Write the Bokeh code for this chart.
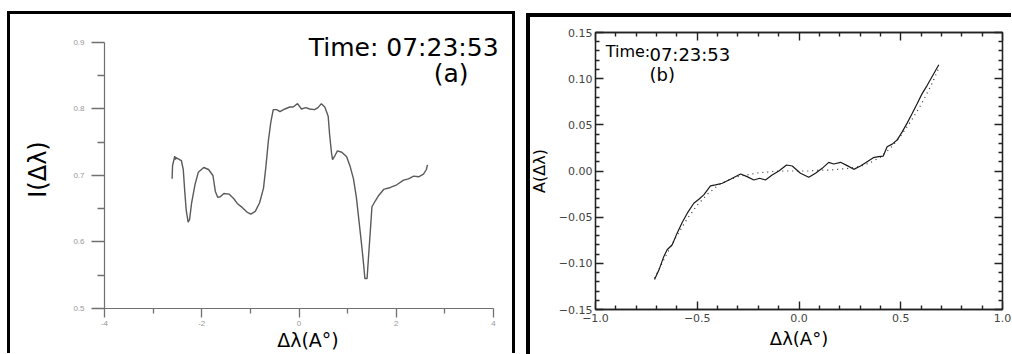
from bokeh.plotting import figure
from bokeh.models import FixedTicker, LinearAxis, Label
from bokeh.layouts import row
from bokeh.embed import file_html
from bokeh.resources import INLINE

# ---------------- Panel (a): intensity profile ----------------
wl_a = [-2.61, -2.60, -2.555, -2.54, -2.53, -2.42, -2.38, -2.35, -2.32, -2.28,
        -2.25, -2.21, -2.14, -2.07, -1.96, -1.86, -1.77, -1.72, -1.67, -1.62,
        -1.545, -1.44, -1.34, -1.27, -1.17, -1.07, -0.99, -0.90, -0.81, -0.73,
        -0.68, -0.63, -0.58, -0.53, -0.46, -0.39, -0.29, -0.19, -0.12, -0.03,
        0.05, 0.14, 0.22, 0.32, 0.39, 0.46, 0.53, 0.60, 0.63, 0.67,
        0.69, 0.74, 0.79, 0.88, 0.98, 1.05, 1.12, 1.18, 1.23, 1.28,
        1.32, 1.355, 1.40, 1.43, 1.47, 1.50, 1.57, 1.64, 1.74, 1.88,
        2.01, 2.15, 2.25, 2.36, 2.46, 2.56, 2.62, 2.64]
int_a = [0.695, 0.715, 0.729, 0.724, 0.727, 0.7225, 0.709, 0.6765, 0.648, 0.630,
         0.634, 0.658, 0.686, 0.705, 0.712, 0.709, 0.700, 0.676, 0.667, 0.668,
         0.673, 0.672, 0.665, 0.658, 0.652, 0.645, 0.642, 0.646, 0.659, 0.681,
         0.714, 0.752, 0.780, 0.799, 0.799, 0.796, 0.800, 0.803, 0.803, 0.808,
         0.800, 0.802, 0.800, 0.799, 0.802, 0.808, 0.803, 0.789, 0.761, 0.733,
         0.724, 0.730, 0.737, 0.735, 0.728, 0.714, 0.695, 0.667, 0.634, 0.601,
         0.573, 0.545, 0.545, 0.578, 0.620, 0.653, 0.662, 0.670, 0.679, 0.682,
         0.686, 0.693, 0.695, 0.699, 0.698, 0.702, 0.709, 0.716]
xt_a = [-4, -2, 0, 2, 4]
xt_a_labels = ["-4", "-2", "0", "2", "4"]
xminor_a = [-3, -1, 1, 3]
yt_a = [0.5, 0.6, 0.7, 0.8, 0.9]
yt_a_labels = ["0.5", "0.6", "0.7", "0.8", "0.9"]
yminor_a = [0.55, 0.65, 0.75, 0.85]

# ---------------- Panel (b): asymmetry ----------------
wl_b = [-0.710, -0.689, -0.664, -0.648, -0.623, -0.599, -0.574, -0.549, -0.517, -0.492,
        -0.468, -0.435, -0.410, -0.377, -0.337, -0.287, -0.255, -0.222, -0.193, -0.165,
        -0.132, -0.099, -0.061, -0.033, 0.007, 0.048, 0.081, 0.114, 0.146, 0.171,
        0.204, 0.237, 0.269, 0.302, 0.335, 0.365, 0.392, 0.414, 0.433, 0.458,
        0.482, 0.507, 0.532, 0.556, 0.581, 0.605, 0.630, 0.662, 0.687]
asym_b = [-0.1176, -0.1076, -0.0925, -0.0853, -0.0799, -0.0673, -0.0558, -0.0457, -0.0349, -0.0306,
          -0.0259, -0.0162, -0.0151, -0.0133, -0.0090, -0.0032, -0.0061, -0.0097, -0.0079, -0.0097,
          -0.0043, 0.0000, 0.0065, 0.0054, -0.0025, -0.0068, -0.0025, 0.0029, 0.0094, 0.0076,
          0.0094, 0.0058, 0.0018, 0.0054, 0.0101, 0.0144, 0.0155, 0.0162, 0.0263, 0.0291,
          0.0335, 0.0424, 0.0521, 0.0622, 0.0730, 0.0838, 0.0928, 0.1054, 0.1151]
wl_fit_b = [-0.71, -0.65, -0.60, -0.55, -0.50, -0.45, -0.40, -0.35, -0.30, -0.25,
            -0.20, -0.15, -0.10, -0.05, 0.00, 0.05, 0.10, 0.15, 0.20, 0.25,
            0.30, 0.35, 0.40, 0.45, 0.50, 0.55, 0.60, 0.65, 0.69]
asym_fit_b = [-0.116, -0.090, -0.070, -0.052, -0.037, -0.025, -0.016, -0.010, -0.006, -0.004,
              -0.002, -0.001, 0.000, 0.000, 0.000, 0.000, 0.001, 0.001, 0.002, 0.003,
              0.005, 0.009, 0.015, 0.025, 0.038, 0.054, 0.072, 0.093, 0.113]
xt_b = [-1.0, -0.5, 0.0, 0.5, 1.0]
xt_b_labels = ["\u22121.0", "\u22120.5", "0.0", "0.5", "1.0"]
xminor_b = [round(-1.0 + 0.1 * i, 2) for i in range(21) if i % 5]
yt_b = [-0.15, -0.10, -0.05, 0.0, 0.05, 0.10, 0.15]
yt_b_labels = ["\u22120.15", "\u22120.10", "\u22120.05", "0.00", "0.05", "0.10", "0.15"]
yminor_b = [round(-0.15 + 0.01 * i, 2) for i in range(31) if i % 5]

time_text = "07:23:53"

# ---------------- figure (a) ----------------
# ranges are a little wider than the axes (axis bounds) so the header text is not clipped
pa = figure(width=508, height=342, x_range=(-4, 4.37), y_range=(0.5, 0.918),
            output_backend="svg", toolbar_location=None,
            min_border_left=97, min_border_right=4, min_border_top=4, min_border_bottom=42,
            margin=(11, 0, 0, 7),
            styles={"background-color": "white",
                    "box-shadow": "inset 3px 0 0 0 black, inset 0 3px 0 0 black, inset -3px 0 0 0 black"})
pa.border_fill_color = None
pa.outline_line_color = None
pa.grid.visible = False
pa.line(wl_a, int_a, line_color="#5a5a5a", line_width=1.4)

xa = pa.xaxis[0]
xa.ticker = FixedTicker(ticks=xt_a, minor_ticks=xminor_a)
xa.major_label_overrides = dict(zip(xt_a, xt_a_labels))
xa.bounds = (xt_a[0], xt_a[-1])
xa.major_tick_out = 9
xa.major_tick_in = 0
xa.minor_tick_out = 5
xa.minor_tick_in = 0
xa.major_label_standoff = 3
xa.axis_label = "\u0394\u03bb(A\u00b0)"
xa.axis_label_standoff = 0
xa.axis_label_text_font_size = "19px"

ya = pa.yaxis[0]
ya.ticker = FixedTicker(ticks=yt_a, minor_ticks=yminor_a)
ya.major_label_overrides = dict(zip(yt_a, yt_a_labels))
ya.bounds = (yt_a[0], yt_a[-1])
ya.major_tick_out = 13
ya.major_tick_in = 0
ya.minor_tick_out = 7
ya.minor_tick_in = 0
ya.major_label_standoff = 7
ya.axis_label = "I(\u0394\u03bb)"
ya.axis_label_standoff = 18
ya.axis_label_text_font_size = "24px"

for ax in (xa, ya):
    ax.axis_line_color = "#707070"
    ax.axis_line_width = 1.2
    ax.major_tick_line_color = "#707070"
    ax.minor_tick_line_color = "#707070"
    ax.major_tick_line_width = 1.3
    ax.minor_tick_line_width = 1.3
    ax.major_label_text_font_size = "8px"
    ax.major_label_text_color = "#999999"
    ax.major_label_text_font = "Liberation Sans"
    ax.axis_label_text_font = "DejaVu Sans"
    ax.axis_label_text_font_style = "normal"
    ax.axis_label_text_color = "black"

pa.add_layout(Label(x=0.2, y=0.893, text="Time: " + time_text, text_font="DejaVu Sans",
                    text_font_size="25px", text_color="black", text_baseline="alphabetic"))
pa.add_layout(Label(x=2.77, y=0.854, text="(a)", text_font="DejaVu Sans",
                    text_font_size="25px", text_color="black", text_baseline="alphabetic"))

# ---------------- figure (b) ----------------
pb = figure(width=485, height=341, x_range=(-1.0, 1.0), y_range=(-0.15, 0.15),
            output_backend="svg", toolbar_location=None,
            min_border_left=69, min_border_right=9, min_border_top=19, min_border_bottom=44,
            margin=(13, 0, 0, 11),
            styles={"background-color": "white",
                    "box-shadow": "inset 4px 0 0 0 black, inset 0 4px 0 0 black"})
pb.border_fill_color = None
pb.outline_line_color = "#222222"
pb.outline_line_width = 1.3
pb.grid.visible = False
pb.line(wl_fit_b, asym_fit_b, line_color="#333333", line_width=1.2, line_dash="1 4")
pb.line(wl_b, asym_b, line_color="#1a1a1a", line_width=1.2)

xb = pb.xaxis[0]
xb.ticker = FixedTicker(ticks=xt_b, minor_ticks=xminor_b)
xb.major_label_overrides = dict(zip(xt_b, xt_b_labels))
xb.axis_label = "\u0394\u03bb(A\u00b0)"
xb.axis_label_standoff = 3
xb.axis_label_text_font_size = "18px"
xb.major_label_standoff = 4

yb = pb.yaxis[0]
yb.ticker = FixedTicker(ticks=yt_b, minor_ticks=yminor_b)
yb.major_label_overrides = dict(zip(yt_b, yt_b_labels))
yb.axis_label = "A(\u0394\u03bb)"
yb.axis_label_standoff = 7
yb.axis_label_text_font_size = "16px"
yb.major_label_standoff = 3

top_b = LinearAxis(ticker=FixedTicker(ticks=xt_b, minor_ticks=xminor_b))
right_b = LinearAxis(ticker=FixedTicker(ticks=yt_b, minor_ticks=yminor_b))
pb.add_layout(top_b, "above")
pb.add_layout(right_b, "right")
for ax in (top_b, right_b):
    ax.major_label_text_font_size = "0px"
    ax.major_label_text_color = None
    ax.major_label_standoff = 0

for ax in (xb, yb, top_b, right_b):
    ax.axis_line_color = "#222222"
    ax.axis_line_width = 1.3
    ax.major_tick_line_color = "#222222"
    ax.minor_tick_line_color = "#222222"
    ax.major_tick_line_width = 1.4
    ax.minor_tick_line_width = 1.4
    ax.major_tick_in = 8
    ax.major_tick_out = 0
    ax.minor_tick_in = 4
    ax.minor_tick_out = 0
for ax in (xb, yb):
    ax.major_label_text_color = "#444444"
    ax.major_label_text_font = "DejaVu Sans"
    ax.major_label_text_font_size = "11px"
    ax.axis_label_text_font = "DejaVu Sans"
    ax.axis_label_text_font_style = "normal"
    ax.axis_label_text_color = "black"

pb.add_layout(Label(x=-0.95, y=0.129, text="Time:", text_font="DejaVu Sans",
                    text_font_size="16px", text_color="black", text_baseline="alphabetic"))
pb.add_layout(Label(x=-0.735, y=0.126, text=time_text, text_font="DejaVu Sans",
                    text_font_size="18px", text_color="black", text_baseline="alphabetic"))
pb.add_layout(Label(x=-0.735, y=0.105, text="(b)", text_font="DejaVu Sans",
                    text_font_size="18px", text_color="black", text_baseline="alphabetic"))

layout = row(pa, pb)
open("out.html", "w").write(file_html(layout, INLINE))
